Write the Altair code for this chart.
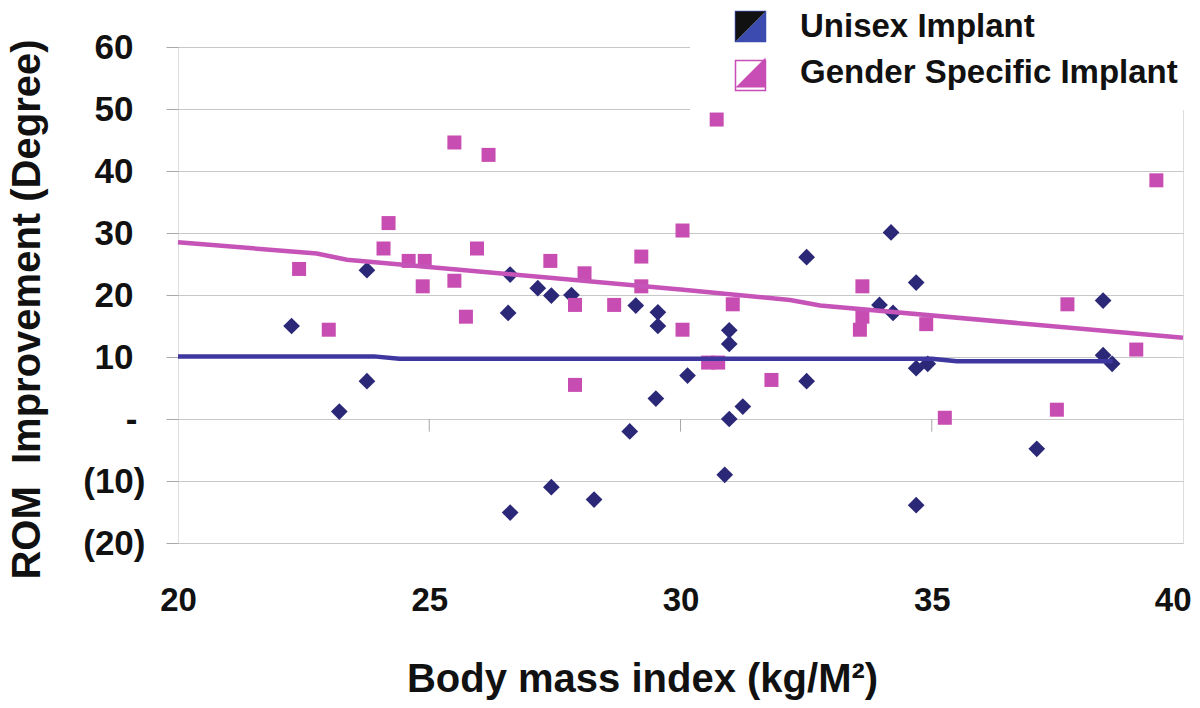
import altair as alt
import pandas as pd

series = ["Unisex Implant", "Gender Specific Implant"]

uni_bmi = [22.26, 23.76, 23.76, 23.21, 26.61, 26.57, 27.16, 27.43, 27.83, 29.11, 29.55, 29.55,
           29.51, 30.14, 28.99, 27.43, 28.28, 26.61, 30.97, 30.97, 30.97, 31.24, 30.88, 32.51,
           32.51, 34.19, 33.96, 34.23, 34.69, 34.69, 34.92, 34.69, 37.09, 38.41, 38.41, 38.59]
uni_rom = [15.0, 24.0, 6.1, 1.2, 23.3, 17.1, 21.1, 19.9, 20.0, 18.3, 17.2, 15.0,
           3.3, 7.0, -2.0, -11.0, -13.0, -15.1, 14.3, 12.1, 0.0, 2.0, -9.0, 26.1,
           6.1, 30.1, 18.4, 17.1, 22.0, 8.2, 8.9, -13.9, -4.8, 19.1, 10.3, 8.9]

gs_bmi = [25.50, 26.18, 24.19, 24.09, 25.95, 22.41, 24.59, 24.91, 24.87, 25.50, 25.73, 23.00,
          27.41, 28.09, 27.90, 28.68, 27.90, 29.22, 29.22, 30.04, 30.04, 30.72, 31.04, 30.55,
          30.75, 31.81, 33.62, 33.62, 33.57, 34.89, 35.26, 37.49, 37.70, 39.07, 39.47]
gs_rom = [44.6, 42.6, 31.6, 27.5, 27.5, 24.2, 25.5, 25.5, 21.4, 22.3, 16.5, 14.4,
          25.5, 23.5, 18.4, 18.4, 5.5, 26.2, 21.4, 30.4, 14.4, 48.3, 18.5, 9.1,
          9.1, 6.3, 21.4, 16.5, 14.4, 15.3, 0.2, 1.5, 18.5, 11.2, 38.5]

uni_trend_bmi = [20.0, 23.9, 24.4, 35.0, 35.5, 38.6]
uni_trend_rom = [10.1, 10.1, 9.7, 9.7, 9.3, 9.3]
gs_trend_bmi = [20.0, 22.76, 23.36, 30.0, 32.18, 32.78, 40.0]
gs_trend_rom = [28.5, 26.7, 25.7, 20.9, 19.2, 18.3, 13.1]

x_ticks = [20, 25, 30, 35, 40]
y_ticks = [-20, -10, 0, 10, 20, 30, 40, 50, 60]

FONT = "Liberation Sans"
NAVY = "#2c2878"
MAGENTA = "#c84db2"
LINE_BLUE = "#3f37a0"
LINE_MAG = "#c653b8"
LEG_BLUE = "#3c4bb0"
LEG_MAG = "#c84db5"

pts = pd.concat([
    pd.DataFrame({"bmi": uni_bmi, "rom": uni_rom, "series": series[0]}),
    pd.DataFrame({"bmi": gs_bmi, "rom": gs_rom, "series": series[1]}),
], ignore_index=True)
trend = pd.concat([
    pd.DataFrame({"bmi": uni_trend_bmi, "rom": uni_trend_rom, "series": series[0]}),
    pd.DataFrame({"bmi": gs_trend_bmi, "rom": gs_trend_rom, "series": series[1]}),
], ignore_index=True)
ticks_df = pd.DataFrame({"bmi": x_ticks})

xscale = alt.Scale(domain=[20, 40], nice=False, zero=False)
yscale = alt.Scale(domain=[-20, 60], nice=False)

label_expr = (
    "datum.value < 0 ? '(' + abs(datum.value) + ')' : "
    "(datum.value == 0 ? '-' : '' + datum.value)"
)

x_enc = alt.X(
    "bmi:Q", scale=xscale,
    axis=alt.Axis(values=x_ticks, grid=False, ticks=False, domain=False,
                  labelPadding=41, labelFlush=False, labelFontSize=33,
                  labelAlign={"condition": {"test": "datum.value == 40", "value": "right"},
                              "value": "center"},
                  labelOffset={"condition": {"test": "datum.value == 40", "value": 8},
                               "value": 0},
                  labelFont=FONT, labelFontWeight="bold", labelColor="#111111",
                  title="Body mass index (kg/M²)", titleFontSize=40,
                  titleFont=FONT, titleFontWeight="bold", titleColor="#111111",
                  titleX=464, titleAlign="center",
                  titleY=148, titleBaseline="alphabetic"),
)
y_enc = alt.Y(
    "rom:Q", scale=yscale,
    axis=alt.Axis(values=y_ticks, grid=True, gridColor="#c8c8c8", gridWidth=1,
                  ticks=True, tickSize=12, tickColor="#a8a8a8", domain=False,
                  labelPadding={"condition": [{"test": "datum.value > 0", "value": 33},
                                              {"test": "datum.value == 0", "value": 29}],
                                "value": 21},
                  labelFontSize=35, labelFont=FONT, labelFontWeight="bold",
                  labelColor="#111111", labelExpr=label_expr,
                  title="ROM\u00a0 Improvement (Degree)", titleFontSize=40,
                  titleFont=FONT, titleFontWeight="bold", titleColor="#111111",
                  titleX=-151, titleY=262, titleBaseline="middle"),
)

color_scale = alt.Scale(domain=series, range=[NAVY, MAGENTA])

points = alt.Chart(pts).mark_point(filled=True, opacity=1).encode(
    x=x_enc, y=y_enc,
    color=alt.Color("series:N", scale=color_scale, legend=None),
    shape=alt.Shape("series:N", scale=alt.Scale(domain=series, range=["diamond", "square"]), legend=None),
    size=alt.Size("series:N", scale=alt.Scale(domain=series, range=[280, 196]), legend=None),
)

lines = alt.Chart(trend).mark_line(strokeWidth=4.5).encode(
    x="bmi:Q", y="rom:Q",
    color=alt.Color("series:N", scale=alt.Scale(domain=series, range=[LINE_BLUE, LINE_MAG]), legend=None),
    detail="series:N",
)

xticks_layer = alt.Chart(ticks_df).transform_filter(
    "datum.bmi > 20 && datum.bmi < 40"
).mark_rule(color="#a8a8a8", strokeWidth=1).encode(
    x="bmi:Q", y=alt.datum(0), y2=alt.datum(-2.05)
)

# legend: three overlapping legends build the two-tone symbols
leg_common = dict(orient="none", legendX=512, legendY=-57, padding=20, symbolOffset=24,
                  symbolSize=900, labelFontSize=33, labelFont=FONT, labelFontWeight="bold",
                  labelColor="#111111", labelOffset=33, rowPadding=12, labelLimit=1000,
                  title=None, direction="vertical", symbolOpacity=1)
leg_df = pd.DataFrame({
    "s_col": series,
    "s_stroke": [s + " " for s in series],
    "s_op": [s + "  " for s in series],
})

leg_color = alt.Chart(leg_df).transform_filter("false").mark_point(filled=True, opacity=1).encode(
    color=alt.Color("s_col:N", scale=alt.Scale(domain=series, range=[LEG_BLUE, LEG_MAG]),
                    legend=alt.Legend(symbolType="M1,-1L1,1L-1,1Z", symbolStrokeWidth=0,
                                      fillColor="white", zindex=0, **leg_common))
)
leg_stroke = alt.Chart(leg_df).transform_filter("false").mark_point(filled=False, opacity=1).encode(
    stroke=alt.Stroke("s_stroke:N",
                      scale=alt.Scale(domain=[s + " " for s in series], range=[LEG_BLUE, LEG_MAG]),
                      legend=alt.Legend(symbolType="M-1,-1L1,-1L1,1L-1,1Z", symbolStrokeWidth=1.5,
                                        labelExpr="' '", labelOpacity=0, zindex=1, **leg_common))
)
op_common = dict(leg_common)
op_common.pop("symbolOpacity")
leg_op = alt.Chart(leg_df).transform_filter("false").mark_point(filled=True, color="#111111").encode(
    opacity=alt.Opacity("s_op:N",
                        scale=alt.Scale(type="point", padding=0, domain=[s + "  " for s in series], range=[1, 0]),
                        legend=alt.Legend(symbolType="M-1,-1L1,-1L-1,1Z", symbolStrokeWidth=0,
                                          symbolFillColor="#111111", labelExpr="' '",
                                          labelOpacity=0, zindex=1, **op_common))
)

chart = alt.layer(points, lines, xticks_layer, leg_color, leg_stroke, leg_op).resolve_scale(
    color="independent"
).properties(
    width=1005, height=496,
    autosize=alt.AutoSizeParams(type="none"),
    padding={"left": 170, "top": 39, "right": 9, "bottom": 157},
).configure_view(
    stroke="#8f8f8f", strokeWidth=2
).configure(background="white")

chart.save("out.html", embed_options={"renderer": "svg", "actions": False})
